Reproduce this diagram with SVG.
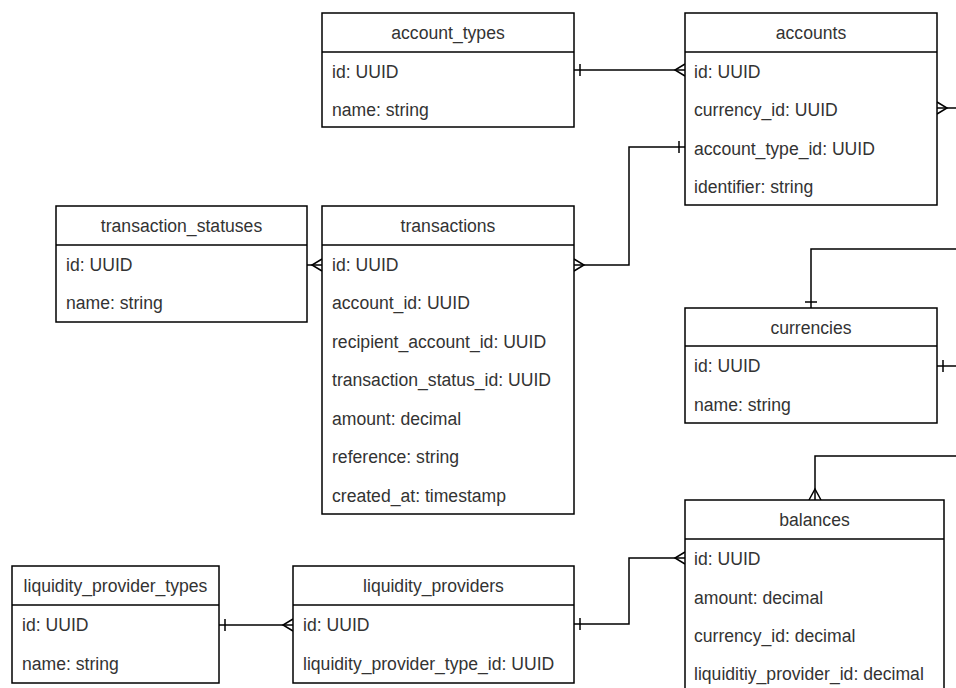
<svg xmlns="http://www.w3.org/2000/svg" width="956" height="688" viewBox="0 0 956 688">
  <style>
    .box { fill: #ffffff; stroke: #000000; stroke-width: 1.5; }
    .sep { stroke: #000000; stroke-width: 1.5; }
    .title { font-family: "Liberation Sans", Arial, sans-serif; font-size: 17.6px; fill: #333333; text-anchor: middle; }
    .field { font-family: "Liberation Sans", Arial, sans-serif; font-size: 17.6px; fill: #333333; }
    .edge { fill: none; stroke: #000000; stroke-width: 1.5; }
  </style>

  <!-- connectors: tick = one, fork = many -->
  <g id="connectors">
    <!-- account_types -> accounts -->
    <path class="edge" d="M574 70 H685"/>
    <path class="edge" d="M580 64 V76"/>
    <path class="edge" d="M685 64 L675 70 L685 76"/>
    <!-- accounts.currency_id out to the right -->
    <path class="edge" d="M937 108 H956"/>
    <path class="edge" d="M937 102 L947 108 L937 114"/>
    <!-- transactions -> accounts.account_type_id -->
    <path class="edge" d="M574 265 H629 V147 H685"/>
    <path class="edge" d="M574 259 L584 265 L574 271"/>
    <path class="edge" d="M679 141 V153"/>
    <!-- transaction_statuses -> transactions -->
    <path class="edge" d="M307 265 H322"/>
    <path class="edge" d="M269 259 V271"/>
    <path class="edge" d="M322 259 L312 265 L322 271"/>
    <!-- incoming from the right into currencies (top) -->
    <path class="edge" d="M956 249 H811 V308"/>
    <path class="edge" d="M805 302 H817"/>
    <!-- currencies out to the right -->
    <path class="edge" d="M937 366 H956"/>
    <path class="edge" d="M943 360 V372"/>
    <!-- incoming from the right into balances (top) -->
    <path class="edge" d="M956 456 H815 V500"/>
    <path class="edge" d="M809 500 L815 489 L821 500"/>
    <!-- liquidity_providers -> balances -->
    <path class="edge" d="M574 624 H629 V558 H685"/>
    <path class="edge" d="M580 618 V630"/>
    <path class="edge" d="M685 552 L675 558 L685 564"/>
    <!-- liquidity_provider_types -> liquidity_providers -->
    <path class="edge" d="M219 625 H293"/>
    <path class="edge" d="M225 619 V631"/>
    <path class="edge" d="M293 619 L283 625 L293 631"/>
  </g>

  <g id="account_types">
    <rect class="box" x="322" y="13" width="252" height="114"/>
    <line class="sep" x1="322" y1="52" x2="574" y2="52"/>
    <text class="title" x="448" y="38.5">account_types</text>
    <text class="field" x="332" y="77.5">id: UUID</text>
    <text class="field" x="332" y="115.5">name: string</text>
  </g>

  <g id="accounts">
    <rect class="box" x="685" y="13" width="252" height="192"/>
    <line class="sep" x1="685" y1="52" x2="937" y2="52"/>
    <text class="title" x="811" y="38.5">accounts</text>
    <text class="field" x="694" y="77.5">id: UUID</text>
    <text class="field" x="694" y="115.5">currency_id: UUID</text>
    <text class="field" x="694" y="154.5">account_type_id: UUID</text>
    <text class="field" x="694" y="192.5">identifier: string</text>
  </g>

  <g id="transaction_statuses">
    <rect class="box" x="56" y="206" width="251" height="116"/>
    <line class="sep" x1="56" y1="245" x2="307" y2="245"/>
    <text class="title" x="181.5" y="232">transaction_statuses</text>
    <text class="field" x="66" y="271">id: UUID</text>
    <text class="field" x="66" y="309">name: string</text>
  </g>

  <g id="transactions">
    <rect class="box" x="322" y="206" width="252" height="308"/>
    <line class="sep" x1="322" y1="245" x2="574" y2="245"/>
    <text class="title" x="448" y="232">transactions</text>
    <text class="field" x="332" y="271">id: UUID</text>
    <text class="field" x="332" y="309">account_id: UUID</text>
    <text class="field" x="332" y="348">recipient_account_id: UUID</text>
    <text class="field" x="332" y="386">transaction_status_id: UUID</text>
    <text class="field" x="332" y="425">amount: decimal</text>
    <text class="field" x="332" y="463">reference: string</text>
    <text class="field" x="332" y="502">created_at: timestamp</text>
  </g>

  <g id="currencies">
    <rect class="box" x="685" y="308" width="252" height="115"/>
    <line class="sep" x1="685" y1="346" x2="937" y2="346"/>
    <text class="title" x="811" y="333.5">currencies</text>
    <text class="field" x="694" y="372">id: UUID</text>
    <text class="field" x="694" y="410.5">name: string</text>
  </g>

  <g id="balances">
    <rect class="box" x="685" y="500" width="259" height="194"/>
    <line class="sep" x1="685" y1="539" x2="944" y2="539"/>
    <text class="title" x="814.5" y="525.5">balances</text>
    <text class="field" x="694" y="565">id: UUID</text>
    <text class="field" x="694" y="603.5">amount: decimal</text>
    <text class="field" x="694" y="642">currency_id: decimal</text>
    <text class="field" x="694" y="680">liquiditiy_provider_id: decimal</text>
  </g>

  <g id="liquidity_provider_types">
    <rect class="box" x="12" y="566" width="207" height="117"/>
    <line class="sep" x1="12" y1="605" x2="219" y2="605"/>
    <text class="title" x="115.5" y="592">liquidity_provider_types</text>
    <text class="field" x="22" y="631">id: UUID</text>
    <text class="field" x="22" y="669.5">name: string</text>
  </g>

  <g id="liquidity_providers">
    <rect class="box" x="293" y="566" width="281" height="117"/>
    <line class="sep" x1="293" y1="605" x2="574" y2="605"/>
    <text class="title" x="433.5" y="592">liquidity_providers</text>
    <text class="field" x="303" y="631">id: UUID</text>
    <text class="field" x="303" y="669.5">liquidity_provider_type_id: UUID</text>
  </g>
</svg>
